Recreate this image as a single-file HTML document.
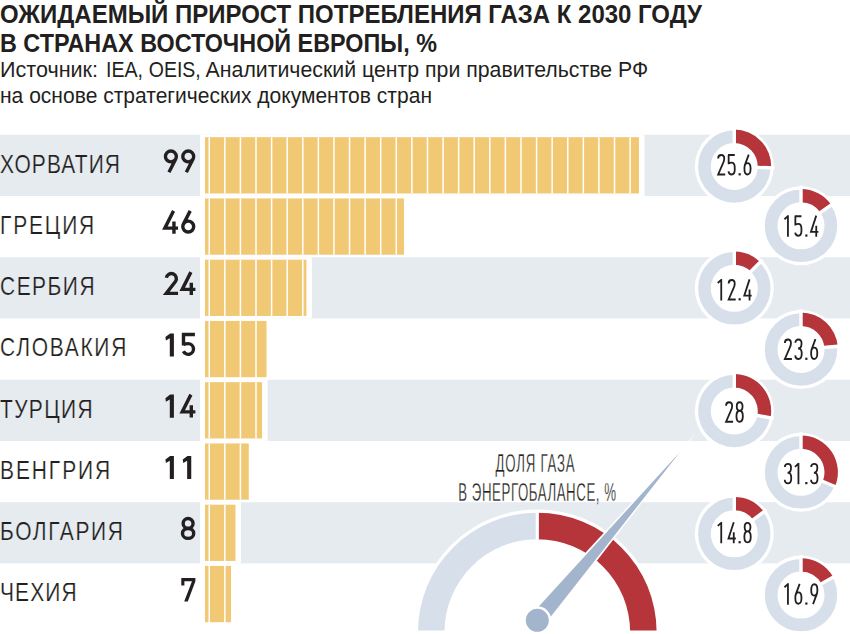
<!DOCTYPE html>
<html><head><meta charset="utf-8"><style>
html,body{margin:0;padding:0;background:#fff;width:850px;height:634px;overflow:hidden}
svg{display:block}
text{font-family:"Liberation Sans",sans-serif}
</style></head><body>
<svg width="850" height="634" viewBox="0 0 850 634">
<rect x="0" y="0" width="850" height="634" fill="#fff"/>
<rect x="0" y="134.70" width="850" height="61.25" fill="#e6ebf0"/>
<rect x="0" y="257.20" width="850" height="61.25" fill="#e6ebf0"/>
<rect x="0" y="379.70" width="850" height="61.25" fill="#e6ebf0"/>
<rect x="0" y="502.20" width="850" height="61.25" fill="#e6ebf0"/>
<rect x="200" y="134.70" width="444.47" height="61.25" fill="#fff"/>
<rect x="205" y="137.20" width="433.97" height="56.25" fill="#f1c874"/>
<rect x="208.50" y="137.20" width="1.5" height="56.25" fill="#fff"/>
<rect x="224.09" y="137.20" width="1.5" height="56.25" fill="#fff"/>
<rect x="239.67" y="137.20" width="1.5" height="56.25" fill="#fff"/>
<rect x="255.26" y="137.20" width="1.5" height="56.25" fill="#fff"/>
<rect x="270.85" y="137.20" width="1.5" height="56.25" fill="#fff"/>
<rect x="286.44" y="137.20" width="1.5" height="56.25" fill="#fff"/>
<rect x="302.02" y="137.20" width="1.5" height="56.25" fill="#fff"/>
<rect x="317.61" y="137.20" width="1.5" height="56.25" fill="#fff"/>
<rect x="333.20" y="137.20" width="1.5" height="56.25" fill="#fff"/>
<rect x="348.78" y="137.20" width="1.5" height="56.25" fill="#fff"/>
<rect x="364.37" y="137.20" width="1.5" height="56.25" fill="#fff"/>
<rect x="379.96" y="137.20" width="1.5" height="56.25" fill="#fff"/>
<rect x="395.54" y="137.20" width="1.5" height="56.25" fill="#fff"/>
<rect x="411.13" y="137.20" width="1.5" height="56.25" fill="#fff"/>
<rect x="426.72" y="137.20" width="1.5" height="56.25" fill="#fff"/>
<rect x="442.31" y="137.20" width="1.5" height="56.25" fill="#fff"/>
<rect x="457.89" y="137.20" width="1.5" height="56.25" fill="#fff"/>
<rect x="473.48" y="137.20" width="1.5" height="56.25" fill="#fff"/>
<rect x="489.07" y="137.20" width="1.5" height="56.25" fill="#fff"/>
<rect x="504.65" y="137.20" width="1.5" height="56.25" fill="#fff"/>
<rect x="520.24" y="137.20" width="1.5" height="56.25" fill="#fff"/>
<rect x="535.83" y="137.20" width="1.5" height="56.25" fill="#fff"/>
<rect x="551.41" y="137.20" width="1.5" height="56.25" fill="#fff"/>
<rect x="567.00" y="137.20" width="1.5" height="56.25" fill="#fff"/>
<rect x="582.59" y="137.20" width="1.5" height="56.25" fill="#fff"/>
<rect x="598.17" y="137.20" width="1.5" height="56.25" fill="#fff"/>
<rect x="613.76" y="137.20" width="1.5" height="56.25" fill="#fff"/>
<rect x="629.35" y="137.20" width="1.5" height="56.25" fill="#fff"/>
<rect x="200" y="195.95" width="209.46" height="61.25" fill="#fff"/>
<rect x="205" y="198.45" width="198.96" height="56.25" fill="#f1c874"/>
<rect x="208.50" y="198.45" width="1.5" height="56.25" fill="#fff"/>
<rect x="224.09" y="198.45" width="1.5" height="56.25" fill="#fff"/>
<rect x="239.67" y="198.45" width="1.5" height="56.25" fill="#fff"/>
<rect x="255.26" y="198.45" width="1.5" height="56.25" fill="#fff"/>
<rect x="270.85" y="198.45" width="1.5" height="56.25" fill="#fff"/>
<rect x="286.44" y="198.45" width="1.5" height="56.25" fill="#fff"/>
<rect x="302.02" y="198.45" width="1.5" height="56.25" fill="#fff"/>
<rect x="317.61" y="198.45" width="1.5" height="56.25" fill="#fff"/>
<rect x="333.20" y="198.45" width="1.5" height="56.25" fill="#fff"/>
<rect x="348.78" y="198.45" width="1.5" height="56.25" fill="#fff"/>
<rect x="364.37" y="198.45" width="1.5" height="56.25" fill="#fff"/>
<rect x="379.96" y="198.45" width="1.5" height="56.25" fill="#fff"/>
<rect x="395.54" y="198.45" width="1.5" height="56.25" fill="#fff"/>
<rect x="200" y="257.20" width="111.92" height="61.25" fill="#fff"/>
<rect x="205" y="259.70" width="101.42" height="56.25" fill="#f1c874"/>
<rect x="208.50" y="259.70" width="1.5" height="56.25" fill="#fff"/>
<rect x="224.09" y="259.70" width="1.5" height="56.25" fill="#fff"/>
<rect x="239.67" y="259.70" width="1.5" height="56.25" fill="#fff"/>
<rect x="255.26" y="259.70" width="1.5" height="56.25" fill="#fff"/>
<rect x="270.85" y="259.70" width="1.5" height="56.25" fill="#fff"/>
<rect x="286.44" y="259.70" width="1.5" height="56.25" fill="#fff"/>
<rect x="302.02" y="259.70" width="1.5" height="56.25" fill="#fff"/>
<rect x="200" y="318.45" width="72.01" height="61.25" fill="#fff"/>
<rect x="205" y="320.95" width="61.51" height="56.25" fill="#f1c874"/>
<rect x="208.50" y="320.95" width="1.5" height="56.25" fill="#fff"/>
<rect x="224.09" y="320.95" width="1.5" height="56.25" fill="#fff"/>
<rect x="239.67" y="320.95" width="1.5" height="56.25" fill="#fff"/>
<rect x="255.26" y="320.95" width="1.5" height="56.25" fill="#fff"/>
<rect x="200" y="379.70" width="67.58" height="61.25" fill="#fff"/>
<rect x="205" y="382.20" width="57.08" height="56.25" fill="#f1c874"/>
<rect x="208.50" y="382.20" width="1.5" height="56.25" fill="#fff"/>
<rect x="224.09" y="382.20" width="1.5" height="56.25" fill="#fff"/>
<rect x="239.67" y="382.20" width="1.5" height="56.25" fill="#fff"/>
<rect x="255.26" y="382.20" width="1.5" height="56.25" fill="#fff"/>
<rect x="200" y="440.95" width="54.27" height="61.25" fill="#fff"/>
<rect x="205" y="443.45" width="43.77" height="56.25" fill="#f1c874"/>
<rect x="208.50" y="443.45" width="1.5" height="56.25" fill="#fff"/>
<rect x="224.09" y="443.45" width="1.5" height="56.25" fill="#fff"/>
<rect x="239.67" y="443.45" width="1.5" height="56.25" fill="#fff"/>
<rect x="200" y="502.20" width="40.97" height="61.25" fill="#fff"/>
<rect x="205" y="504.70" width="30.47" height="56.25" fill="#f1c874"/>
<rect x="208.50" y="504.70" width="1.5" height="56.25" fill="#fff"/>
<rect x="224.09" y="504.70" width="1.5" height="56.25" fill="#fff"/>
<rect x="200" y="563.45" width="36.54" height="61.25" fill="#fff"/>
<rect x="205" y="565.95" width="26.04" height="56.25" fill="#f1c874"/>
<rect x="208.50" y="565.95" width="1.5" height="56.25" fill="#fff"/>
<rect x="224.09" y="565.95" width="1.5" height="56.25" fill="#fff"/>
<text transform="translate(0,172.62) scale(0.84,1)" font-size="25" fill="#231f20" stroke="#e6ebf0" stroke-width="0.2" textLength="142.86" lengthAdjust="spacing">ХОРВАТИЯ</text>
<path transform="translate(181.10,149.32)" d="M1.70,7.15 A5.45,5.45 0 1 0 12.60,7.15 A5.45,5.45 0 1 0 1.70,7.15 Z M12.00,9.64 L5.20,22.90" fill="none" stroke="#231f20" stroke-width="3.4" stroke-linejoin="miter" stroke-linecap="butt"/>
<path transform="translate(163.75,149.32)" d="M1.70,7.15 A5.45,5.45 0 1 0 12.60,7.15 A5.45,5.45 0 1 0 1.70,7.15 Z M12.00,9.64 L5.20,22.90" fill="none" stroke="#231f20" stroke-width="3.4" stroke-linejoin="miter" stroke-linecap="butt"/>
<text transform="translate(0,233.88) scale(0.84,1)" font-size="25" fill="#231f20" stroke="#fff" stroke-width="0.2" textLength="112.26" lengthAdjust="spacing">ГРЕЦИЯ</text>
<path transform="translate(181.10,210.57) rotate(180 7.15 11.6)" d="M1.70,7.15 A5.45,5.45 0 1 0 12.60,7.15 A5.45,5.45 0 1 0 1.70,7.15 Z M12.00,9.64 L5.20,22.90" fill="none" stroke="#231f20" stroke-width="3.4" stroke-linejoin="miter" stroke-linecap="butt"/>
<path transform="translate(163.45,210.57)" d="M10.1,0.3 L1.4,17.6 H14.6 M10.5,11 V23.2" fill="none" stroke="#231f20" stroke-width="3.4" stroke-linejoin="miter" stroke-linecap="butt"/>
<text transform="translate(0,295.12) scale(0.84,1)" font-size="25" fill="#231f20" stroke="#e6ebf0" stroke-width="0.2" textLength="112.62" lengthAdjust="spacing">СЕРБИЯ</text>
<path transform="translate(180.80,271.82)" d="M10.1,0.3 L1.4,17.6 H14.6 M10.5,11 V23.2" fill="none" stroke="#231f20" stroke-width="3.4" stroke-linejoin="miter" stroke-linecap="butt"/>
<path transform="translate(164.55,271.82)" d="M1.78,5.87 A5.05,5.05 0 1 1 10.89,9.65 L1.7,21.6 H13.5" fill="none" stroke="#231f20" stroke-width="3.4" stroke-linejoin="miter" stroke-linecap="butt"/>
<text transform="translate(0,356.38) scale(0.84,1)" font-size="25" fill="#231f20" stroke="#fff" stroke-width="0.2" textLength="150.36" lengthAdjust="spacing">СЛОВАКИЯ</text>
<path transform="translate(181.60,333.07)" d="M0.2,1.5 H13.3 M1.9,0 V12.4 M1.9,11.4 Q4,10.6 6.60,10.60 A5.3,5.3 0 1 1 1.80,18.14" fill="none" stroke="#231f20" stroke-width="3.4" stroke-linejoin="miter" stroke-linecap="butt"/>
<polygon points="170.10,333.38 173.90,333.38 173.90,356.57 169.80,356.57 169.80,338.27 165.90,340.57 165.40,336.98" fill="#231f20"/>
<text transform="translate(0,417.62) scale(0.84,1)" font-size="25" fill="#231f20" stroke="#e6ebf0" stroke-width="0.2" textLength="110.24" lengthAdjust="spacing">ТУРЦИЯ</text>
<path transform="translate(180.80,394.32)" d="M10.1,0.3 L1.4,17.6 H14.6 M10.5,11 V23.2" fill="none" stroke="#231f20" stroke-width="3.4" stroke-linejoin="miter" stroke-linecap="butt"/>
<polygon points="170.10,394.62 173.90,394.62 173.90,417.82 169.80,417.82 169.80,399.52 165.90,401.82 165.40,398.23" fill="#231f20"/>
<text transform="translate(0,478.88) scale(0.84,1)" font-size="25" fill="#231f20" stroke="#fff" stroke-width="0.2" textLength="131.19" lengthAdjust="spacing">ВЕНГРИЯ</text>
<polygon points="187.45,455.88 191.25,455.88 191.25,479.07 187.15,479.07 187.15,460.77 183.25,463.07 182.75,459.48" fill="#231f20"/>
<polygon points="170.10,455.88 173.90,455.88 173.90,479.07 169.80,479.07 169.80,460.77 165.90,463.07 165.40,459.48" fill="#231f20"/>
<text transform="translate(0,540.12) scale(0.84,1)" font-size="25" fill="#231f20" stroke="#e6ebf0" stroke-width="0.2" textLength="146.31" lengthAdjust="spacing">БОЛГАРИЯ</text>
<path transform="translate(180.80,516.83)" d="M2.35,6.55 A4.95,4.85 0 1 0 12.25,6.55 A4.95,4.85 0 1 0 2.35,6.55 ZM1.70,16.55 A5.60,4.95 0 1 0 12.90,16.55 A5.60,4.95 0 1 0 1.70,16.55 Z" fill="none" stroke="#231f20" stroke-width="3.4" stroke-linejoin="miter" stroke-linecap="butt"/>
<text transform="translate(0,601.38) scale(0.84,1)" font-size="25" fill="#231f20" stroke="#fff" stroke-width="0.2" textLength="91.31" lengthAdjust="spacing">ЧЕХИЯ</text>
<path transform="translate(181.30,578.08)" d="M0,0 H14.1 V3.1 L6.5,23.3 H2.9 L10.7,3.1 H3.1 V7.3 H0 Z" fill="#231f20"/>
<clipPath id="gclip"><rect x="0" y="0" width="850" height="630.6"/></clipPath><g clip-path="url(#gclip)"><circle cx="537.3" cy="632" r="122.5" fill="#fff"/><path d="M417.99999999999994,632 A119.3,119.3 0 0 1 537.3,512.7 L537.3,539.2 A92.8,92.8 0 0 0 444.49999999999994,632 Z" fill="#d7e0ea"/><path d="M537.3,512.7 A119.3,119.3 0 0 1 656.5999999999999,632 L630.0999999999999,632 A92.8,92.8 0 0 0 537.3,539.2 Z" fill="#b5353a"/><rect x="535.6999999999999" y="512.2" width="3.2" height="27.5" fill="#fff"/></g>
<text transform="translate(495.6,472) scale(0.53,1)" font-size="25" fill="#231f20" stroke="#fff" stroke-width="0.3" textLength="149.25" lengthAdjust="spacing">ДОЛЯ ГАЗА</text>
<text transform="translate(458.2,500.8) scale(0.53,1)" font-size="25" fill="#231f20" stroke="#fff" stroke-width="0.3" textLength="297.92" lengthAdjust="spacing">В ЭНЕРГОБАЛАНСЕ, %</text>
<circle cx="734.3" cy="166.50" r="39.50" fill="#fff"/><circle cx="734.3" cy="166.50" r="29.85" fill="none" stroke="#d7e0ea" stroke-width="12.70"/><path d="M734.30,129.60 A36.900000000000006,36.900000000000006 0 0 1 771.17,167.89 L757.78,167.39 A23.5,23.5 0 0 0 734.30,143.00 Z" fill="#b5353a"/><line x1="734.30" y1="144.00" x2="734.30" y2="126.30" stroke="#fff" stroke-width="3.4"/><line x1="756.78" y1="167.35" x2="774.47" y2="168.02" stroke="#fff" stroke-width="3.4"/><path transform="translate(721.25,154.10)" d="M-3.1,4.4 C-3.1,2.2 -1.8,0.9 0,0.9 C1.9,0.9 3.0,2.2 3.0,4.6 C3.0,6.6 2.4,8.0 1.6,9.6 L-3.1,20.4 H3.95" fill="none" stroke="#231f20" stroke-width="1.8"/><path transform="translate(731.75,154.10)" d="M-3.7,0.9 H3.0 M-3.1,0.9 V10.2 M-3.1,9.6 C-2.4,8.9 -1.4,8.6 -0.2,8.6 C1.9,8.6 3.0,10.5 3.0,13.6 V15.4 C3.0,18.6 1.9,20.4 -0.1,20.4 C-1.8,20.4 -2.9,19.3 -3.3,17.2" fill="none" stroke="#231f20" stroke-width="1.8"/><rect x="738.55" y="173.20" width="2.2" height="2.2" fill="#231f20"/><path transform="translate(747.55,154.10)" d="M1.2,0.5 L-2.6,10.8 C-2.9,11.7 -3.1,12.6 -3.1,13.8 V15.2 C-3.1,18.5 -1.9,20.4 -0.05,20.4 C1.8,20.4 3.0,18.5 3.0,15.2 V13.8 C3.0,10.8 1.8,9.0 -0.05,9.0 C-1.2,9.0 -2.1,9.8 -2.6,11.0" fill="none" stroke="#231f20" stroke-width="1.8"/>
<circle cx="801" cy="225.80" r="39.50" fill="#fff"/><circle cx="801" cy="225.80" r="29.85" fill="none" stroke="#d7e0ea" stroke-width="12.70"/><path d="M801.00,188.90 A36.900000000000006,36.900000000000006 0 0 1 831.39,204.87 L820.35,212.47 A23.5,23.5 0 0 0 801.00,202.30 Z" fill="#b5353a"/><line x1="801.00" y1="203.30" x2="801.00" y2="185.60" stroke="#fff" stroke-width="3.4"/><line x1="819.53" y1="213.04" x2="834.11" y2="203.00" stroke="#fff" stroke-width="3.4"/><path transform="translate(787.95,215.35)" d="M0,0 V21.3 M0.2,0.6 L-3.5,3.9" fill="none" stroke="#231f20" stroke-width="1.8"/><path transform="translate(798.45,215.35)" d="M-3.7,0.9 H3.0 M-3.1,0.9 V10.2 M-3.1,9.6 C-2.4,8.9 -1.4,8.6 -0.2,8.6 C1.9,8.6 3.0,10.5 3.0,13.6 V15.4 C3.0,18.6 1.9,20.4 -0.1,20.4 C-1.8,20.4 -2.9,19.3 -3.3,17.2" fill="none" stroke="#231f20" stroke-width="1.8"/><rect x="805.25" y="234.45" width="2.2" height="2.2" fill="#231f20"/><path transform="translate(814.25,215.35)" d="M2.0,0.3 L-3.3,16.5 H4.1 M2.0,10.3 V21.3" fill="none" stroke="#231f20" stroke-width="1.8"/>
<circle cx="734.3" cy="288.30" r="39.50" fill="#fff"/><circle cx="734.3" cy="288.30" r="29.85" fill="none" stroke="#d7e0ea" stroke-width="12.70"/><path d="M734.30,251.40 A36.900000000000006,36.900000000000006 0 0 1 760.23,262.04 L750.81,271.58 A23.5,23.5 0 0 0 734.30,264.80 Z" fill="#b5353a"/><line x1="734.30" y1="265.80" x2="734.30" y2="248.10" stroke="#fff" stroke-width="3.4"/><line x1="750.11" y1="272.29" x2="762.55" y2="259.70" stroke="#fff" stroke-width="3.4"/><path transform="translate(721.25,279.10)" d="M0,0 V21.3 M0.2,0.6 L-3.5,3.9" fill="none" stroke="#231f20" stroke-width="1.8"/><path transform="translate(731.75,279.10)" d="M-3.1,4.4 C-3.1,2.2 -1.8,0.9 0,0.9 C1.9,0.9 3.0,2.2 3.0,4.6 C3.0,6.6 2.4,8.0 1.6,9.6 L-3.1,20.4 H3.95" fill="none" stroke="#231f20" stroke-width="1.8"/><rect x="738.55" y="298.20" width="2.2" height="2.2" fill="#231f20"/><path transform="translate(747.55,279.10)" d="M2.0,0.3 L-3.3,16.5 H4.1 M2.0,10.3 V21.3" fill="none" stroke="#231f20" stroke-width="1.8"/>
<circle cx="801" cy="349.50" r="39.50" fill="#fff"/><circle cx="801" cy="349.50" r="29.85" fill="none" stroke="#d7e0ea" stroke-width="12.70"/><path d="M801.00,312.60 A36.900000000000006,36.900000000000006 0 0 1 837.76,346.26 L824.41,347.44 A23.5,23.5 0 0 0 801.00,326.00 Z" fill="#b5353a"/><line x1="801.00" y1="327.00" x2="801.00" y2="309.30" stroke="#fff" stroke-width="3.4"/><line x1="823.41" y1="347.52" x2="841.04" y2="345.97" stroke="#fff" stroke-width="3.4"/><path transform="translate(787.95,338.60)" d="M-3.1,4.4 C-3.1,2.2 -1.8,0.9 0,0.9 C1.9,0.9 3.0,2.2 3.0,4.6 C3.0,6.6 2.4,8.0 1.6,9.6 L-3.1,20.4 H3.95" fill="none" stroke="#231f20" stroke-width="1.8"/><path transform="translate(798.45,338.60)" d="M-3.1,4.2 C-3.1,2.0 -1.7,0.9 0,0.9 C1.8,0.9 3.1,2.1 3.1,4.6 C3.1,7.6 2.0,9.9 -0.4,9.9 H0.3 C2.3,9.9 3.3,11.8 3.3,15.0 C3.3,18.5 2.0,20.4 0,20.4 C-1.9,20.4 -3.1,19.1 -3.2,16.8" fill="none" stroke="#231f20" stroke-width="1.8"/><rect x="805.25" y="357.70" width="2.2" height="2.2" fill="#231f20"/><path transform="translate(814.25,338.60)" d="M1.2,0.5 L-2.6,10.8 C-2.9,11.7 -3.1,12.6 -3.1,13.8 V15.2 C-3.1,18.5 -1.9,20.4 -0.05,20.4 C1.8,20.4 3.0,18.5 3.0,15.2 V13.8 C3.0,10.8 1.8,9.0 -0.05,9.0 C-1.2,9.0 -2.1,9.8 -2.6,11.0" fill="none" stroke="#231f20" stroke-width="1.8"/>
<circle cx="734.3" cy="411.00" r="39.50" fill="#fff"/><circle cx="734.3" cy="411.00" r="29.85" fill="none" stroke="#d7e0ea" stroke-width="12.70"/><path d="M734.30,374.10 A36.900000000000006,36.900000000000006 0 0 1 770.55,417.91 L757.38,415.40 A23.5,23.5 0 0 0 734.30,387.50 Z" fill="#b5353a"/><line x1="734.30" y1="388.50" x2="734.30" y2="370.80" stroke="#fff" stroke-width="3.4"/><line x1="756.40" y1="415.22" x2="773.79" y2="418.53" stroke="#fff" stroke-width="3.4"/><path transform="translate(729.15,401.35)" d="M-3.1,4.4 C-3.1,2.2 -1.8,0.9 0,0.9 C1.9,0.9 3.0,2.2 3.0,4.6 C3.0,6.6 2.4,8.0 1.6,9.6 L-3.1,20.4 H3.95" fill="none" stroke="#231f20" stroke-width="1.8"/><path transform="translate(739.65,401.35)" d="M0,0.9 C-1.8,0.9 -2.9,2.3 -2.9,5.0 C-2.9,7.7 -1.8,9.4 0,9.4 C1.8,9.4 2.9,7.7 2.9,5.0 C2.9,2.3 1.8,0.9 0,0.9 Z M0,9.4 C-2.0,9.4 -3.2,11.4 -3.2,14.8 C-3.2,18.3 -2.0,20.4 0,20.4 C2.0,20.4 3.2,18.3 3.2,14.8 C3.2,11.4 2.0,9.4 0,9.4 Z" fill="none" stroke="#231f20" stroke-width="1.8"/>
<circle cx="801" cy="472.30" r="39.50" fill="#fff"/><circle cx="801" cy="472.30" r="29.85" fill="none" stroke="#d7e0ea" stroke-width="12.70"/><path d="M801.00,435.40 A36.900000000000006,36.900000000000006 0 0 1 835.05,486.53 L822.68,481.36 A23.5,23.5 0 0 0 801.00,448.80 Z" fill="#b5353a"/><line x1="801.00" y1="449.80" x2="801.00" y2="432.10" stroke="#fff" stroke-width="3.4"/><line x1="821.76" y1="480.98" x2="838.09" y2="487.80" stroke="#fff" stroke-width="3.4"/><path transform="translate(787.95,462.90)" d="M-3.1,4.2 C-3.1,2.0 -1.7,0.9 0,0.9 C1.8,0.9 3.1,2.1 3.1,4.6 C3.1,7.6 2.0,9.9 -0.4,9.9 H0.3 C2.3,9.9 3.3,11.8 3.3,15.0 C3.3,18.5 2.0,20.4 0,20.4 C-1.9,20.4 -3.1,19.1 -3.2,16.8" fill="none" stroke="#231f20" stroke-width="1.8"/><path transform="translate(798.45,462.90)" d="M0,0 V21.3 M0.2,0.6 L-3.5,3.9" fill="none" stroke="#231f20" stroke-width="1.8"/><rect x="805.25" y="482.00" width="2.2" height="2.2" fill="#231f20"/><path transform="translate(814.25,462.90)" d="M-3.1,4.2 C-3.1,2.0 -1.7,0.9 0,0.9 C1.8,0.9 3.1,2.1 3.1,4.6 C3.1,7.6 2.0,9.9 -0.4,9.9 H0.3 C2.3,9.9 3.3,11.8 3.3,15.0 C3.3,18.5 2.0,20.4 0,20.4 C-1.9,20.4 -3.1,19.1 -3.2,16.8" fill="none" stroke="#231f20" stroke-width="1.8"/>
<circle cx="734.3" cy="533.80" r="39.50" fill="#fff"/><circle cx="734.3" cy="533.80" r="29.85" fill="none" stroke="#d7e0ea" stroke-width="12.70"/><path d="M734.30,496.90 A36.900000000000006,36.900000000000006 0 0 1 763.88,511.74 L753.14,519.75 A23.5,23.5 0 0 0 734.30,510.30 Z" fill="#b5353a"/><line x1="734.30" y1="511.30" x2="734.30" y2="493.60" stroke="#fff" stroke-width="3.4"/><line x1="752.34" y1="520.35" x2="766.52" y2="509.76" stroke="#fff" stroke-width="3.4"/><path transform="translate(721.25,522.00)" d="M0,0 V21.3 M0.2,0.6 L-3.5,3.9" fill="none" stroke="#231f20" stroke-width="1.8"/><path transform="translate(731.75,522.00)" d="M2.0,0.3 L-3.3,16.5 H4.1 M2.0,10.3 V21.3" fill="none" stroke="#231f20" stroke-width="1.8"/><rect x="738.55" y="541.10" width="2.2" height="2.2" fill="#231f20"/><path transform="translate(747.55,522.00)" d="M0,0.9 C-1.8,0.9 -2.9,2.3 -2.9,5.0 C-2.9,7.7 -1.8,9.4 0,9.4 C1.8,9.4 2.9,7.7 2.9,5.0 C2.9,2.3 1.8,0.9 0,0.9 Z M0,9.4 C-2.0,9.4 -3.2,11.4 -3.2,14.8 C-3.2,18.3 -2.0,20.4 0,20.4 C2.0,20.4 3.2,18.3 3.2,14.8 C3.2,11.4 2.0,9.4 0,9.4 Z" fill="none" stroke="#231f20" stroke-width="1.8"/>
<circle cx="801" cy="595.10" r="39.50" fill="#fff"/><circle cx="801" cy="595.10" r="29.85" fill="none" stroke="#d7e0ea" stroke-width="12.70"/><path d="M801.00,558.20 A36.900000000000006,36.900000000000006 0 0 1 833.22,577.12 L821.52,583.65 A23.5,23.5 0 0 0 801.00,571.60 Z" fill="#b5353a"/><line x1="801.00" y1="572.60" x2="801.00" y2="554.90" stroke="#fff" stroke-width="3.4"/><line x1="820.65" y1="584.14" x2="836.11" y2="575.51" stroke="#fff" stroke-width="3.4"/><path transform="translate(787.95,583.35)" d="M0,0 V21.3 M0.2,0.6 L-3.5,3.9" fill="none" stroke="#231f20" stroke-width="1.8"/><path transform="translate(798.45,583.35)" d="M1.2,0.5 L-2.6,10.8 C-2.9,11.7 -3.1,12.6 -3.1,13.8 V15.2 C-3.1,18.5 -1.9,20.4 -0.05,20.4 C1.8,20.4 3.0,18.5 3.0,15.2 V13.8 C3.0,10.8 1.8,9.0 -0.05,9.0 C-1.2,9.0 -2.1,9.8 -2.6,11.0" fill="none" stroke="#231f20" stroke-width="1.8"/><rect x="805.25" y="602.45" width="2.2" height="2.2" fill="#231f20"/><path transform="translate(814.25,583.35) rotate(180 0 10.65)" d="M1.2,0.5 L-2.6,10.8 C-2.9,11.7 -3.1,12.6 -3.1,13.8 V15.2 C-3.1,18.5 -1.9,20.4 -0.05,20.4 C1.8,20.4 3.0,18.5 3.0,15.2 V13.8 C3.0,10.8 1.8,9.0 -0.05,9.0 C-1.2,9.0 -2.1,9.8 -2.6,11.0" fill="none" stroke="#231f20" stroke-width="1.8"/>
<polygon points="545.31,627.09 696.39,432.72 529.29,613.51" fill="#fff"/>
<polygon points="543.63,625.67 680.22,451.79 530.97,614.93" fill="#a3b4cd"/>
<circle cx="537.3" cy="620.3" r="14" fill="#fff"/>
<circle cx="537.3" cy="620.3" r="11.5" fill="#a3b4cd"/>
<text x="0" y="23" font-weight="bold" font-size="26" fill="#231f20" textLength="702" lengthAdjust="spacingAndGlyphs">ОЖИДАЕМЫЙ ПРИРОСТ ПОТРЕБЛЕНИЯ ГАЗА К 2030 ГОДУ</text>
<text x="0" y="51.5" font-weight="bold" font-size="26" fill="#231f20" textLength="437" lengthAdjust="spacingAndGlyphs">В СТРАНАХ ВОСТОЧНОЙ ЕВРОПЫ, %</text>
<text x="0" y="77" font-size="22.5" fill="#231f20" textLength="98" lengthAdjust="spacingAndGlyphs">Источник:</text>
<text x="106.0" y="77" font-size="22.5" fill="#231f20" textLength="37.0" lengthAdjust="spacingAndGlyphs">IEA,</text>
<text x="148.8" y="77" font-size="22.5" fill="#231f20" textLength="52.0" lengthAdjust="spacingAndGlyphs">OEIS,</text>
<text x="205.6" y="77" font-size="22.5" fill="#231f20" textLength="442.6" lengthAdjust="spacingAndGlyphs">Аналитический центр при правительстве РФ</text>
<text x="0" y="103.2" font-size="22.5" fill="#231f20" textLength="432" lengthAdjust="spacingAndGlyphs">на основе стратегических документов стран</text>
</svg>
</body></html>
